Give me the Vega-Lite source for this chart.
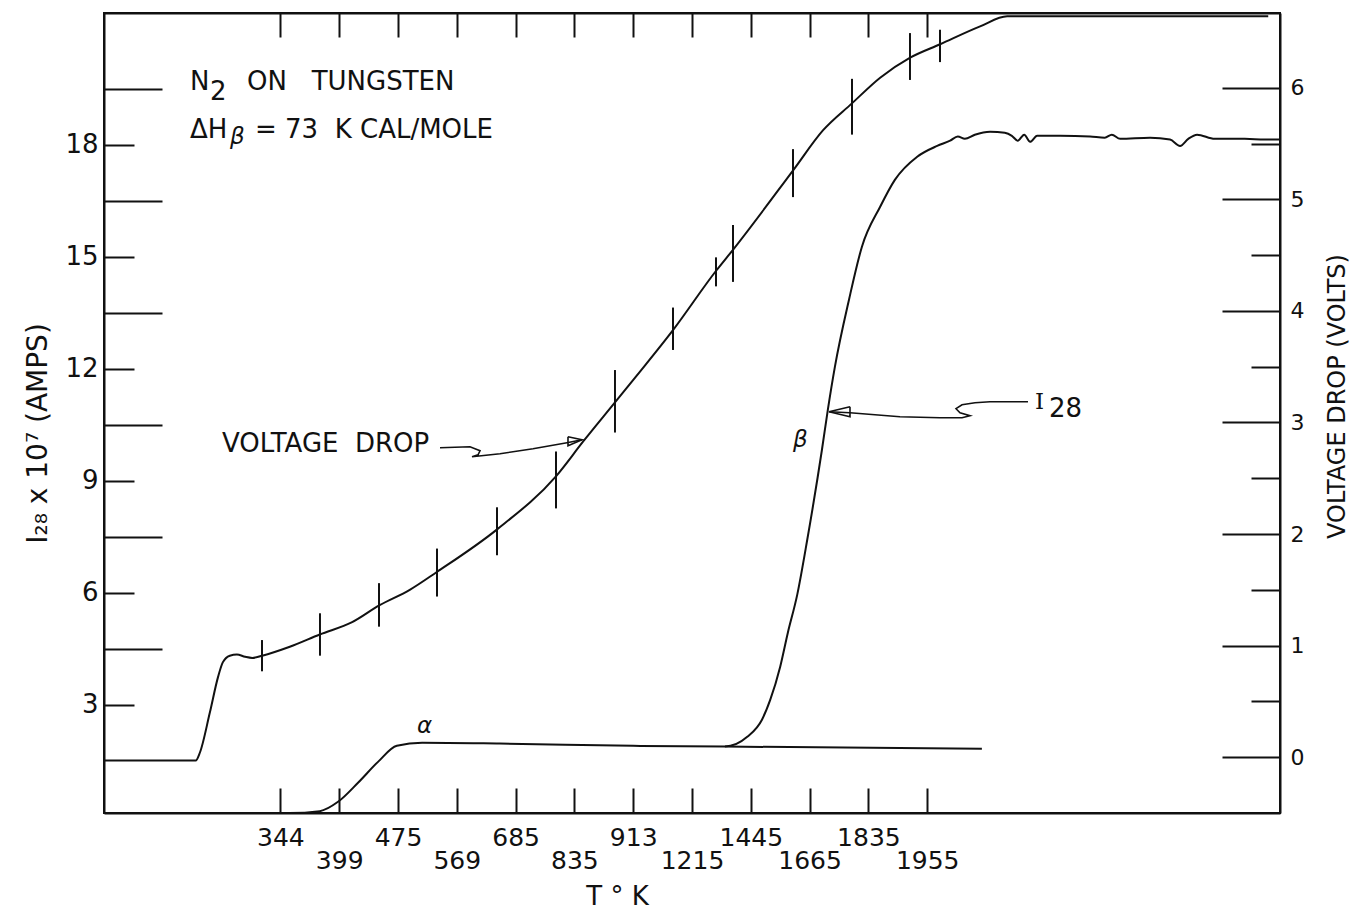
{
  "$schema": "https://vega.github.io/schema/vega-lite/v6.json",
  "width": 1176,
  "height": 800,
  "autosize": {"type": "none"},
  "padding": {"left": 104, "top": 13, "right": 72, "bottom": 105},
  "background": "white",
  "config": {
    "view": {"stroke": "#111", "strokeWidth": 2},
    "axis": {
      "grid": false,
      "domainColor": "#111", "domainWidth": 2,
      "tickColor": "#111", "tickWidth": 2,
      "labelColor": "#111", "titleColor": "#111",
      "labelFont": "DejaVu Sans", "titleFont": "DejaVu Sans",
      "titleFontWeight": "normal",
      "labelFlush": false, "labelOverlap": false, "labelBound": false
    }
  },
  "datasets": {
    "i28": [
      {"s": "I28", "u": -3, "i": 0.1}, {"s": "I28", "u": 0.16, "i": 0.1}, {"s": "I28", "u": 0.67, "i": 0.15},
      {"s": "I28", "u": 0.98, "i": 0.40}, {"s": "I28", "u": 1.32, "i": 0.91}, {"s": "I28", "u": 1.66, "i": 1.47},
      {"s": "I28", "u": 1.98, "i": 1.90}, {"s": "I28", "u": 2.41, "i": 1.98}, {"s": "I28", "u": 3.73, "i": 1.96},
      {"s": "I28", "u": 6.0, "i": 1.90}, {"s": "I28", "u": 7.56, "i": 1.88}, {"s": "I28", "u": 7.94, "i": 2.14},
      {"s": "I28", "u": 8.19, "i": 2.60}, {"s": "I28", "u": 8.33, "i": 3.13}, {"s": "I28", "u": 8.50, "i": 4.02},
      {"s": "I28", "u": 8.63, "i": 4.93}, {"s": "I28", "u": 8.79, "i": 5.95}, {"s": "I28", "u": 8.96, "i": 7.42},
      {"s": "I28", "u": 9.21, "i": 9.83}, {"s": "I28", "u": 9.31, "i": 10.90}, {"s": "I28", "u": 9.43, "i": 12.05},
      {"s": "I28", "u": 9.67, "i": 13.85}, {"s": "I28", "u": 9.89, "i": 15.27}, {"s": "I28", "u": 10.20, "i": 16.34},
      {"s": "I28", "u": 10.45, "i": 17.06}, {"s": "I28", "u": 10.83, "i": 17.68}, {"s": "I28", "u": 11.17, "i": 17.97},
      {"s": "I28", "u": 11.39, "i": 18.11}, {"s": "I28", "u": 11.52, "i": 18.22}, {"s": "I28", "u": 11.64, "i": 18.16},
      {"s": "I28", "u": 11.81, "i": 18.27}, {"s": "I28", "u": 12.07, "i": 18.35}, {"s": "I28", "u": 12.32, "i": 18.32},
      {"s": "I28", "u": 12.44, "i": 18.24}, {"s": "I28", "u": 12.54, "i": 18.11}, {"s": "I28", "u": 12.65, "i": 18.27},
      {"s": "I28", "u": 12.75, "i": 18.08}, {"s": "I28", "u": 12.87, "i": 18.24}, {"s": "I28", "u": 13.26, "i": 18.24},
      {"s": "I28", "u": 13.77, "i": 18.22}, {"s": "I28", "u": 14.02, "i": 18.19}, {"s": "I28", "u": 14.14, "i": 18.27},
      {"s": "I28", "u": 14.28, "i": 18.16}, {"s": "I28", "u": 14.79, "i": 18.19}, {"s": "I28", "u": 15.13, "i": 18.14},
      {"s": "I28", "u": 15.30, "i": 17.97}, {"s": "I28", "u": 15.44, "i": 18.16}, {"s": "I28", "u": 15.59, "i": 18.27},
      {"s": "I28", "u": 15.89, "i": 18.16}, {"s": "I28", "u": 16.40, "i": 18.16}, {"s": "I28", "u": 16.74, "i": 18.14},
      {"s": "I28", "u": 17.0, "i": 18.14},
      {"s": "base", "u": 7.56, "i": 1.88}, {"s": "base", "u": 11.93, "i": 1.82}
    ],
    "volt": [
      {"u": -3, "v": -0.03}, {"u": -1.44, "v": -0.03}, {"u": -1.37, "v": 0.04}, {"u": -1.20, "v": 0.40},
      {"u": -1.06, "v": 0.72}, {"u": -0.98, "v": 0.85}, {"u": -0.86, "v": 0.91}, {"u": -0.74, "v": 0.92},
      {"u": -0.60, "v": 0.90}, {"u": -0.48, "v": 0.89}, {"u": -0.31, "v": 0.91}, {"u": 0.16, "v": 0.99},
      {"u": 0.67, "v": 1.10}, {"u": 1.22, "v": 1.21}, {"u": 1.68, "v": 1.36}, {"u": 2.20, "v": 1.50},
      {"u": 2.66, "v": 1.66}, {"u": 3.68, "v": 2.04}, {"u": 4.69, "v": 2.52}, {"u": 5.15, "v": 2.83},
      {"u": 5.69, "v": 3.18}, {"u": 6.06, "v": 3.42}, {"u": 6.68, "v": 3.83}, {"u": 7.41, "v": 4.36},
      {"u": 7.70, "v": 4.55}, {"u": 8.72, "v": 5.26}, {"u": 9.23, "v": 5.62}, {"u": 9.72, "v": 5.86},
      {"u": 10.20, "v": 6.09}, {"u": 10.71, "v": 6.27}, {"u": 11.22, "v": 6.39}, {"u": 11.90, "v": 6.55},
      {"u": 12.36, "v": 6.64}, {"u": 16.80, "v": 6.64}
    ],
    "vticks": [
      {"u": -0.313, "v1": 1.05, "v2": 0.77}, {"u": 0.673, "v1": 1.29, "v2": 0.91},
      {"u": 1.677, "v1": 1.56, "v2": 1.17}, {"u": 2.663, "v1": 1.87, "v2": 1.44},
      {"u": 3.684, "v1": 2.24, "v2": 1.81}, {"u": 4.687, "v1": 2.74, "v2": 2.23},
      {"u": 5.690, "v1": 3.47, "v2": 2.91}, {"u": 6.677, "v1": 4.03, "v2": 3.65},
      {"u": 7.408, "v1": 4.48, "v2": 4.22}, {"u": 7.697, "v1": 4.77, "v2": 4.26},
      {"u": 8.718, "v1": 5.45, "v2": 5.02}, {"u": 9.721, "v1": 6.08, "v2": 5.58},
      {"u": 10.707, "v1": 6.49, "v2": 6.07}, {"u": 11.218, "v1": 6.52, "v2": 6.23}
    ],
    "leaders": [
      {"g": "v", "k": 0, "u": 2.714, "i": 9.885}, {"g": "v", "k": 1, "u": 3.224, "i": 9.912},
      {"g": "v", "k": 2, "u": 3.395, "i": 9.804}, {"g": "v", "k": 3, "u": 3.361, "i": 9.697},
      {"g": "v", "k": 4, "u": 3.259, "i": 9.644}, {"g": "v", "k": 5, "u": 3.735, "i": 9.724},
      {"g": "v", "k": 6, "u": 4.296, "i": 9.858}, {"g": "v", "k": 7, "u": 4.874, "i": 10.019},
      {"g": "v", "k": 8, "u": 5.129, "i": 10.099},
      {"g": "va", "k": 0, "u": 4.891, "i": 10.179}, {"g": "va", "k": 1, "u": 5.129, "i": 10.099},
      {"g": "va", "k": 2, "u": 4.891, "i": 9.938}, {"g": "va", "k": 3, "u": 4.891, "i": 10.179},
      {"g": "i", "k": 0, "u": 12.714, "i": 11.117}, {"g": "i", "k": 1, "u": 12.068, "i": 11.117},
      {"g": "i", "k": 2, "u": 11.813, "i": 11.090}, {"g": "i", "k": 3, "u": 11.592, "i": 11.037},
      {"g": "i", "k": 4, "u": 11.490, "i": 10.930}, {"g": "i", "k": 5, "u": 11.558, "i": 10.822},
      {"g": "i", "k": 6, "u": 11.728, "i": 10.742}, {"g": "i", "k": 7, "u": 11.592, "i": 10.689},
      {"g": "i", "k": 8, "u": 11.218, "i": 10.689}, {"g": "i", "k": 9, "u": 10.537, "i": 10.715},
      {"g": "i", "k": 10, "u": 9.687, "i": 10.822}, {"g": "i", "k": 11, "u": 9.330, "i": 10.849},
      {"g": "ia", "k": 0, "u": 9.687, "i": 10.983}, {"g": "ia", "k": 1, "u": 9.330, "i": 10.849},
      {"g": "ia", "k": 2, "u": 9.687, "i": 10.715}, {"g": "ia", "k": 3, "u": 9.687, "i": 10.983}
    ],
    "text_main": [
      {"t": "N", "u": -1.537, "i": 19.475},
      {"t": "2", "u": -1.197, "i": 19.207},
      {"t": "ON\u00a0\u00a0\u00a0TUNGSTEN", "u": -0.568, "i": 19.475},
      {"t": "ΔH", "u": -1.537, "i": 18.19},
      {"t": "=\u00a073\u00a0\u00a0K\u00a0CAL/MOLE", "u": -0.432, "i": 18.19},
      {"t": "VOLTAGE\u00a0\u00a0DROP", "u": -0.993, "i": 9.778},
      {"t": "28", "u": 13.071, "i": 10.715}
    ],
    "text_ital": [
      {"t": "β", "u": -0.857, "i": 18.03},
      {"t": "β", "u": 8.718, "i": 9.912},
      {"t": "α", "u": 2.323, "i": 2.25}
    ],
    "text_serif": [
      {"t": "I", "u": 12.833, "i": 10.93}
    ]
  },
  "resolve": {"scale": {"y": "independent"}, "axis": {"x": "independent", "y": "independent"}},
  "layer": [
    {
      "data": {"name": "i28"},
      "mark": {"type": "line", "color": "#111", "strokeWidth": 2, "interpolate": "monotone"},
      "encoding": {
        "x": {"field": "u", "type": "quantitative", "scale": {"domain": [-3, 17], "nice": false, "zero": false},
          "axis": {"orient": "bottom", "values": [0,1,2,3,4,5,6,7,8,9,10,11], "ticks": false, "domain": true,
            "labelExpr": "datum.value % 2 == 0 ? [['344','399','475','569','685','835','913','1215','1445','1665','1835','1955'][datum.value]] : ['\u00a0', ['344','399','475','569','685','835','913','1215','1445','1665','1835','1955'][datum.value]]",
            "labelFontSize": 25, "labelLineHeight": 23, "labelPadding": 12, "labelBaseline": "top",
            "title": "T\u00a0°\u00a0K", "titleFontSize": 26, "titleX": 513, "titleY": 83, "titleAlign": "center", "titleBaseline": "middle", "titleAngle": 0}},
        "y": {"field": "i", "type": "quantitative", "scale": {"domain": [0.1, 21.53], "nice": false, "zero": false},
          "axis": {"orient": "left", "values": [3,6,9,12,15,18], "ticks": false, "domain": true,
            "labelFontSize": 26, "labelPadding": 6,
            "title": "I₂₈ x 10⁷ (AMPS)", "titleFontSize": 28, "titleX": -66, "titleY": 420, "titleAngle": -90, "titleAlign": "center", "titleBaseline": "middle"}},
        "detail": {"field": "s"}
      }
    },
    {
      "data": {"name": "text_main"},
      "mark": {"type": "text", "font": "DejaVu Sans", "fontSize": 26, "align": "left", "baseline": "alphabetic", "color": "#111"},
      "encoding": {
        "x": {"field": "u", "type": "quantitative", "scale": {"domain": [-3, 17], "nice": false, "zero": false},
          "axis": {"orient": "top", "values": [0,1,2,3,4,5,6,7,8,9,10,11], "tickSize": -24, "labels": false, "domain": true, "title": null}},
        "y": {"field": "i", "type": "quantitative", "scale": {"domain": [0.1, 21.53], "nice": false, "zero": false},
          "axis": {"orient": "left", "values": [3,6,9,12,15,18], "tickSize": -30, "labels": false, "domain": false, "title": null}},
        "text": {"field": "t"}
      }
    },
    {
      "data": {"name": "text_ital"},
      "mark": {"type": "text", "font": "DejaVu Sans", "fontSize": 23, "fontStyle": "italic", "align": "left", "baseline": "alphabetic", "color": "#111"},
      "encoding": {
        "x": {"field": "u", "type": "quantitative", "scale": {"domain": [-3, 17], "nice": false, "zero": false},
          "axis": {"orient": "bottom", "values": [0,1,2,3,4,5,6,7,8,9,10,11], "tickSize": -25, "labels": false, "domain": false, "title": null}},
        "y": {"field": "i", "type": "quantitative", "scale": {"domain": [0.1, 21.53], "nice": false, "zero": false},
          "axis": {"orient": "left", "values": [4.5,7.5,10.5,13.5,16.5,19.5], "tickSize": -58, "labels": false, "domain": false, "title": null}},
        "text": {"field": "t"}
      }
    },
    {
      "data": {"name": "text_serif"},
      "mark": {"type": "text", "font": "DejaVu Serif", "fontSize": 23, "align": "left", "baseline": "alphabetic", "color": "#111"},
      "encoding": {
        "x": {"field": "u", "type": "quantitative", "scale": {"domain": [-3, 17], "nice": false, "zero": false}, "axis": null},
        "y": {"field": "i", "type": "quantitative", "scale": {"domain": [0.1, 21.53], "nice": false, "zero": false}, "axis": null},
        "text": {"field": "t"}
      }
    },
    {
      "data": {"name": "leaders"},
      "mark": {"type": "line", "color": "#111", "strokeWidth": 1.6},
      "encoding": {
        "x": {"field": "u", "type": "quantitative", "scale": {"domain": [-3, 17], "nice": false, "zero": false}, "axis": null},
        "y": {"field": "i", "type": "quantitative", "scale": {"domain": [0.1, 21.53], "nice": false, "zero": false}, "axis": null},
        "detail": {"field": "g"},
        "order": {"field": "k", "type": "quantitative"}
      }
    },
    {
      "data": {"name": "volt"},
      "mark": {"type": "line", "color": "#111", "strokeWidth": 2, "interpolate": "monotone"},
      "encoding": {
        "x": {"field": "u", "type": "quantitative", "scale": {"domain": [-3, 17], "nice": false, "zero": false}, "axis": null},
        "y": {"field": "v", "type": "quantitative", "scale": {"domain": [-0.5, 6.67], "nice": false, "zero": false},
          "axis": {"orient": "right", "values": [0,1,2,3,4,5,6], "ticks": false, "domain": true,
            "labelFontSize": 22, "labelPadding": 10,
            "title": "VOLTAGE DROP (VOLTS)", "titleFontSize": 24, "titleX": 57, "titleY": 383, "titleAngle": 270, "titleAlign": "center", "titleBaseline": "middle"}}
      }
    },
    {
      "data": {"name": "vticks"},
      "transform": [{"filter": "datum.u < 5"}],
      "mark": {"type": "rule", "color": "#111", "strokeWidth": 2},
      "encoding": {
        "x": {"field": "u", "type": "quantitative", "scale": {"domain": [-3, 17], "nice": false, "zero": false}, "axis": null},
        "y": {"field": "v1", "type": "quantitative", "scale": {"domain": [-0.5, 6.67], "nice": false, "zero": false},
          "axis": {"orient": "right", "values": [0,1,2,3,4,5,6], "tickSize": -58, "labels": false, "domain": false, "title": null}},
        "y2": {"field": "v2"}
      }
    },
    {
      "data": {"name": "vticks"},
      "transform": [{"filter": "datum.u >= 5"}],
      "mark": {"type": "rule", "color": "#111", "strokeWidth": 2},
      "encoding": {
        "x": {"field": "u", "type": "quantitative", "scale": {"domain": [-3, 17], "nice": false, "zero": false}, "axis": null},
        "y": {"field": "v1", "type": "quantitative", "scale": {"domain": [-0.5, 6.67], "nice": false, "zero": false},
          "axis": {"orient": "right", "values": [0.5,1.5,2.5,3.5,4.5,5.5], "tickSize": -29, "labels": false, "domain": false, "title": null}},
        "y2": {"field": "v2"}
      }
    }
  ]
}
